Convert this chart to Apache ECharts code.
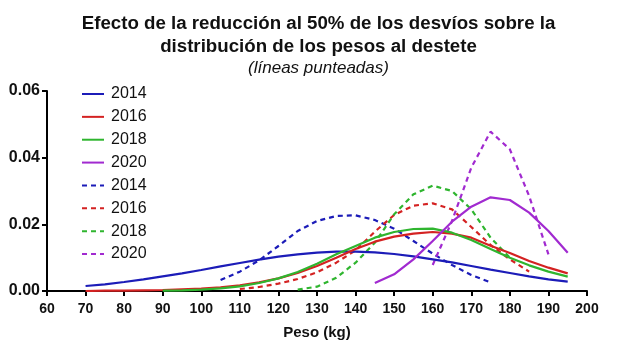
<!DOCTYPE html>
<html>
<head>
<meta charset="utf-8">
<script src="https://cdn.jsdelivr.net/npm/echarts@6/dist/echarts.min.js"></script>
<style>
html,body{margin:0;padding:0;background:#fff;}
#chart{width:637px;height:358px;}
</style>
</head>
<body>
<div id="chart"></div>
<script>
// x values (kg)
const x2014 = [70,75,80,85,90,95,100,105,110,115,120,125,130,135,140,145,150,155,160,165,170,175,180,185,190,195];
const x2016 = [70,75,80,85,90,95,100,105,110,115,120,125,130,135,140,145,150,155,160,165,170,175,180,185,190,195];
const x2018 = [90,95,100,105,110,115,120,125,130,135,140,145,150,155,160,165,170,175,180,185,190,195];
const x2020 = [145,150,155,160,165,170,175,180,185,190,195];
const x2014d = [105,110,115,120,125,130,135,140,145,150,155,160,165,170,175];
const x2016d = [110,115,120,125,130,135,140,145,150,155,160,165,170,175,180,185];
const x2018d = [125,130,135,140,145,150,155,160,165,170,175,180];
const x2020d = [160,165,170,175,180,185,190];

// density values
const y2014 = [0.0015,0.0020,0.0027,0.0035,0.0044,0.0053,0.0063,0.0074,0.0084,0.0094,0.0103,0.0110,0.0115,0.0118,0.0118,0.0116,0.0111,0.0104,0.0095,0.0086,0.0075,0.0064,0.0054,0.0044,0.0035,0.0028];
const y2016 = [0.0000,0.0001,0.0001,0.0002,0.0003,0.0005,0.0007,0.0011,0.0017,0.0026,0.0038,0.0054,0.0075,0.0100,0.0126,0.0148,0.0163,0.0172,0.0177,0.0172,0.0160,0.0136,0.0114,0.0090,0.0070,0.0053];
const y2018 = [0.0001,0.0002,0.0004,0.0008,0.0014,0.0024,0.0038,0.0057,0.0082,0.0110,0.0135,0.0160,0.0177,0.0186,0.0187,0.0175,0.0153,0.0126,0.0100,0.0077,0.0058,0.0043];
const y2020 = [0.0024,0.0050,0.0095,0.0150,0.0208,0.0253,0.0281,0.0273,0.0235,0.0180,0.0115];
const y2014d = [0.0033,0.0058,0.0092,0.0135,0.0180,0.0210,0.0225,0.0227,0.0213,0.0187,0.0150,0.0112,0.0078,0.0048,0.0026];
const y2016d = [0.0006,0.0012,0.0022,0.0036,0.0056,0.0085,0.0122,0.0178,0.0228,0.0256,0.0263,0.0245,0.0192,0.0138,0.0095,0.0058];
const y2018d = [0.0004,0.0013,0.0040,0.0085,0.0145,0.0230,0.0290,0.0316,0.0300,0.0245,0.0160,0.0100];
const y2020d = [0.0078,0.0210,0.0370,0.0478,0.0425,0.0285,0.0110];

const seriesNames = ['2014','2016','2018','2020'];
const xTicks = {min:60, max:200, interval:10};
const yTicks = {min:0, max:0.06, interval:0.02};

const colors = ['#1c1cb8','#d42222','#2fb52f','#a12ad0'];

function pairs(xs, ys){ return xs.map((v,i)=>[v, ys[i]]); }

const solid = [[x2014,y2014],[x2016,y2016],[x2018,y2018],[x2020,y2020]];
const dashed = [[x2014d,y2014d],[x2016d,y2016d],[x2018d,y2018d],[x2020d,y2020d]];

const series = [];
solid.forEach((d,i)=>{
  series.push({
    type:'line', name:seriesNames[i], id:'s'+i,
    data:pairs(d[0],d[1]), symbol:'none', smooth:false,
    lineStyle:{color:colors[i], width:2.2},
    itemStyle:{color:colors[i]}, z:3
  });
});
dashed.forEach((d,i)=>{
  series.push({
    type:'line', name:seriesNames[i]+' ', id:'d'+i,
    data:pairs(d[0],d[1]), symbol:'none', smooth:false,
    lineStyle:{color:colors[i], width:2.2, type:[5,4]},
    itemStyle:{color:colors[i]}, z:2
  });
});

const chart = echarts.init(document.getElementById('chart'), null, {renderer:'canvas'});
chart.setOption({
  animation:false,
  backgroundColor:'#fff',
  title:[
    {text:'Efecto de la reducción al 50% de los desvíos sobre la\ndistribución de los pesos al destete',
     left:'center', top:7,
     textStyle:{fontFamily:'Liberation Sans', fontSize:18.7, fontWeight:'bold', color:'#111', lineHeight:23}},
    {text:'(líneas punteadas)', left:'center', top:55,
     textStyle:{fontFamily:'Liberation Sans', fontSize:17, fontWeight:'normal', fontStyle:'italic', color:'#111'}}
  ],
  legend:{
    orient:'vertical', left:76, top:81,
    itemWidth:22, itemHeight:16, itemGap:6.86,
    itemStyle:{opacity:0},
    textStyle:{fontFamily:'Liberation Sans', fontSize:16, color:'#111', padding:[0,0,0,2]},
    data:series.map(s=>s.name)
  },
  grid:{left:47, right:50, top:91, bottom:67, containLabel:false},
  xAxis:{
    type:'value', min:xTicks.min, max:xTicks.max, interval:xTicks.interval,
    name:'Peso (kg)', nameLocation:'middle', nameGap:34,
    nameTextStyle:{fontFamily:'Liberation Sans', fontSize:15, fontWeight:'bold', color:'#111'},
    axisLine:{show:true, lineStyle:{color:'#000', width:2}},
    axisTick:{show:true, length:5, lineStyle:{color:'#000', width:2}},
    axisLabel:{fontFamily:'Liberation Sans', fontSize:14, fontWeight:'bold', color:'#111', margin:11},
    splitLine:{show:false}
  },
  yAxis:{
    type:'value', min:yTicks.min, max:yTicks.max, interval:yTicks.interval,
    axisLine:{show:true, lineStyle:{color:'#000', width:2}},
    axisTick:{show:true, length:5, lineStyle:{color:'#000', width:2}},
    axisLabel:{fontFamily:'Liberation Sans', fontSize:16, fontWeight:'bold', color:'#111', margin:7,
      formatter:v=>v.toFixed(2)},
    splitLine:{show:false}
  },
  series:series
});
</script>
</body>
</html>
